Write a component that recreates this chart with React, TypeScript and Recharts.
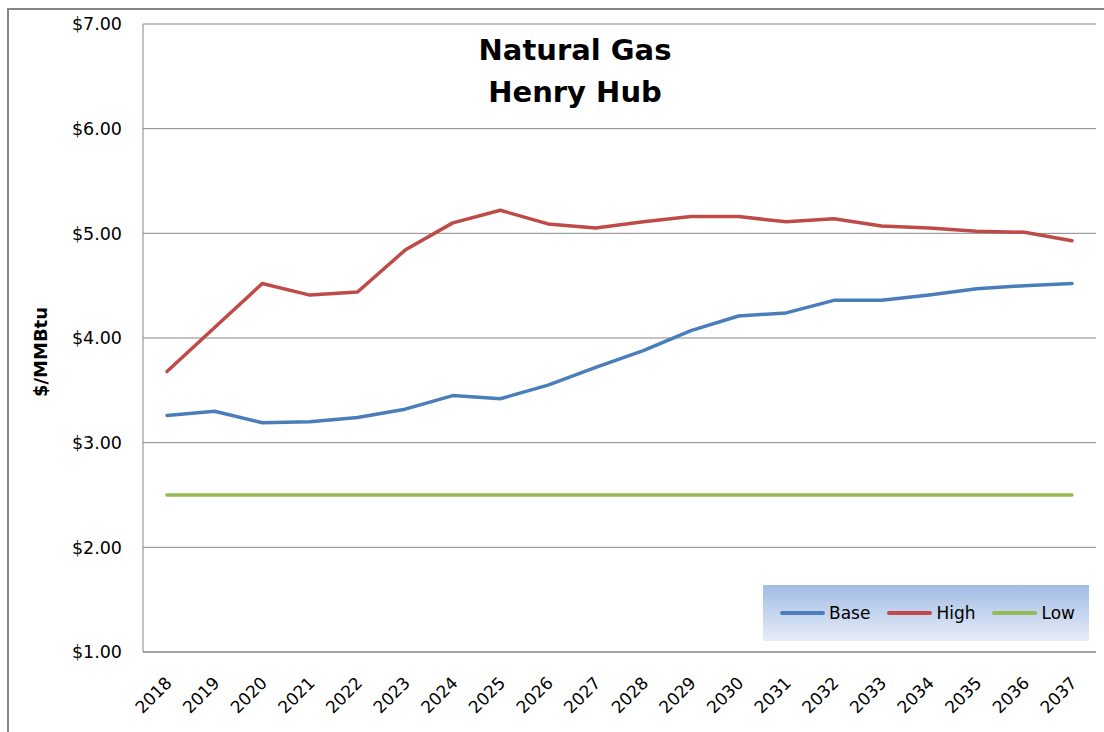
import React from 'react';
import { LineChart, Line, XAxis, YAxis, CartesianGrid } from 'recharts';

// Henry Hub natural gas price outlook, $/MMBtu
const years = [
    '2018', '2019', '2020', '2021', '2022', '2023', '2024', '2025', '2026', '2027',
    '2028', '2029', '2030', '2031', '2032', '2033', '2034', '2035', '2036', '2037',
];
const baseValues = [
    3.26, 3.30, 3.19, 3.20, 3.24, 3.32, 3.45, 3.42, 3.55, 3.72,
    3.88, 4.07, 4.21, 4.24, 4.36, 4.36, 4.41, 4.47, 4.50, 4.52,
];
const highValues = [
    3.68, 4.10, 4.52, 4.41, 4.44, 4.84, 5.10, 5.22, 5.09, 5.05,
    5.11, 5.16, 5.16, 5.11, 5.14, 5.07, 5.05, 5.02, 5.01, 4.93,
];
const lowValues = [
    2.50, 2.50, 2.50, 2.50, 2.50, 2.50, 2.50, 2.50, 2.50, 2.50,
    2.50, 2.50, 2.50, 2.50, 2.50, 2.50, 2.50, 2.50, 2.50, 2.50,
];
const yTicks = [1, 2, 3, 4, 5, 6, 7];

const FONT = '"DejaVu Sans", Verdana, sans-serif';

const series = [
    { key: 'Base', color: '#4A7EBB' },
    { key: 'High', color: '#BE4B48' },
    { key: 'Low', color: '#98B954' },
];

const chartData = years.map((year, i) => ({
    year,
    Base: baseValues[i],
    High: highValues[i],
    Low: lowValues[i],
}));

// rotated year labels under the axis
const YearTick = ({ x, y, payload }: { x?: number; y?: number; payload?: { value: string } }) => {
    const tx = (x ?? 0) + 6;
    const ty = (y ?? 0) + 32;
    return (
        <text
            x={tx}
            y={ty}
            transform={`rotate(-45, ${tx}, ${ty})`}
            textAnchor="end"
            fill="#000"
            fontSize={17}
            fontFamily={FONT}
        >
            {payload?.value}
        </text>
    );
};

const LegendBox = () => (
    <div
        style={{
            position: 'absolute',
            left: 763,
            top: 585,
            width: 326,
            height: 56,
            background: 'linear-gradient(to bottom, #a2bce5, #e6edf8)',
            display: 'flex',
            alignItems: 'center',
            paddingLeft: 17,
            boxSizing: 'border-box',
            fontFamily: FONT,
            fontSize: 17,
            color: '#000',
        }}
    >
        {series.map(s => (
            <div key={s.key} style={{ display: 'flex', alignItems: 'center', marginRight: 17 }}>
                <span
                    style={{
                        display: 'inline-block',
                        width: 45,
                        height: 4,
                        borderRadius: 2,
                        background: s.color,
                        marginRight: 4,
                    }}
                />
                <span>{s.key}</span>
            </div>
        ))}
    </div>
);

export default function App() {
    return (
        <div style={{ position: 'absolute', left: 0, top: 0, width: 1104, height: 732, background: '#fff', overflow: 'hidden' }}>
            {/* chart frame */}
            <div
                style={{
                    position: 'absolute',
                    left: 7,
                    top: 8,
                    width: 1097,
                    height: 724,
                    borderTop: '2px solid #858585',
                    borderLeft: '2px solid #858585',
                    boxSizing: 'border-box',
                }}
            />

            <LineChart
                width={1104}
                height={732}
                data={chartData}
                margin={{ top: 24, right: 8, bottom: 0, left: 0 }}
            >
                <CartesianGrid vertical={false} stroke="#878787" strokeWidth={1} />
                <XAxis
                    dataKey="year"
                    height={80}
                    padding={{ left: 24, right: 24 }}
                    axisLine={{ stroke: '#878787' }}
                    tickLine={false}
                    tickSize={0}
                    tickMargin={0}
                    interval={0}
                    tick={<YearTick />}
                />
                <YAxis
                    width={143}
                    domain={[1, 7]}
                    ticks={yTicks}
                    axisLine={{ stroke: '#878787' }}
                    tickLine={false}
                    tickSize={0}
                    tickMargin={21}
                    tickFormatter={(v: number) => `$${v.toFixed(2)}`}
                    tick={{ fill: '#000', fontSize: 17.5, fontFamily: FONT }}
                    label={{
                        content: () => (
                            <text
                                x={40}
                                y={352}
                                transform="rotate(-90, 40, 352)"
                                textAnchor="middle"
                                dominantBaseline="central"
                                fontSize={18}
                                fontWeight={700}
                                fontFamily={FONT}
                                fill="#000"
                            >
                                $/MMBtu
                            </text>
                        ),
                    }}
                />
                {series.map(s => (
                    <Line
                        key={s.key}
                        type="linear"
                        dataKey={s.key}
                        stroke={s.color}
                        strokeWidth={3.5}
                        strokeLinecap="round"
                        strokeLinejoin="round"
                        dot={false}
                        activeDot={false}
                        isAnimationActive={false}
                    />
                ))}
            </LineChart>

            <LegendBox />

            {/* chart title */}
            <div
                style={{
                    position: 'absolute',
                    left: 375,
                    top: 29,
                    width: 400,
                    textAlign: 'center',
                    fontFamily: FONT,
                    fontWeight: 700,
                    fontSize: 29,
                    lineHeight: '42px',
                    color: '#000',
                }}
            >
                Natural Gas
                <br />
                Henry Hub
            </div>
        </div>
    );
}
